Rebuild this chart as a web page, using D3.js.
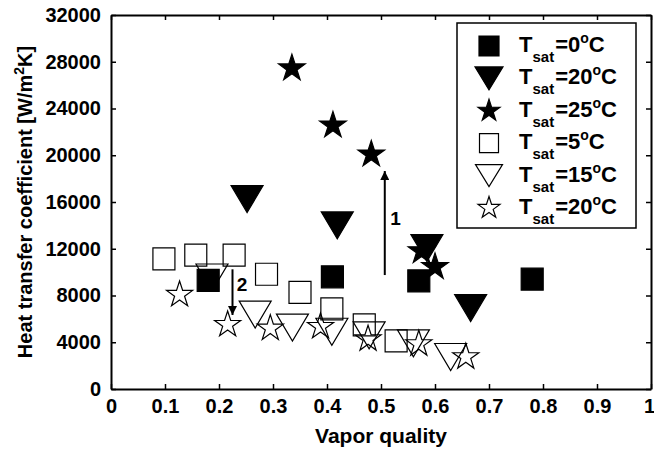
<!DOCTYPE html>
<html>
<head>
<meta charset="utf-8">
<script src="https://cdn.jsdelivr.net/npm/d3@7"></script>
<style>
  body { margin: 0; background: #fff; }
  svg text { font-family: "Liberation Sans", Arial, Helvetica, sans-serif; font-weight: bold; fill: #000; }
</style>
</head>
<body>
<div id="chart"></div>
<script>
// Tick values
const xTickValues = [0, 0.1, 0.2, 0.3, 0.4, 0.5, 0.6, 0.7, 0.8, 0.9, 1];
const xTickLabels = ["0", "0.1", "0.2", "0.3", "0.4", "0.5", "0.6", "0.7", "0.8", "0.9", "1"];
const yTickValues = [0, 4000, 8000, 12000, 16000, 20000, 24000, 28000, 32000];

// Series: filled markers
const sq0X = [0.18, 0.41, 0.57, 0.78];
const sq0Y = [9300, 9600, 9250, 9400];
const triF20X = [0.252, 0.419, 0.585, 0.666];
const triF20Y = [16250, 14000, 12060, 6930];
const starF25X = [0.335, 0.411, 0.482, 0.575, 0.600];
const starF25Y = [27440, 22550, 20070, 11800, 10440];

// Series: open markers
const sq5X = [0.098, 0.157, 0.228, 0.288, 0.350, 0.409, 0.469, 0.528];
const sq5Y = [11140, 11450, 11450, 9820, 8260, 6860, 5480, 4110];
const tri15X = [0.187, 0.267, 0.336, 0.409, 0.478, 0.560, 0.629];
const tri15Y = [9540, 6360, 5250, 4900, 4590, 3910, 2740];
const starO20X = [0.127, 0.216, 0.295, 0.388, 0.476, 0.570, 0.657];
const starO20Y = [8070, 5500, 5190, 5330, 4280, 3850, 2740];

// Legend temperatures (same order as series)
const legendTemps = ["0", "20", "25", "5", "15", "20"];

// Annotation arrows (data units)
const arrowX = [0.507, 0.225];
const arrowFrom = [9750, 10240];
const arrowTo = [18650, 6330];
const arrowLabels = ["1", "2"];
const arrowLabelX = [0.517, 0.233];
const arrowLabelY = [14000, 8400];

const width = 654, height = 449;
const margin = { top: 15, right: 3, bottom: 60, left: 111 };

const x = d3.scaleLinear().domain([0, 1]).range([margin.left, width - margin.right]);
const y = d3.scaleLinear().domain([0, 32000]).range([height - margin.bottom, margin.top]);

const svg = d3.select("#chart").append("svg")
    .attr("width", width)
    .attr("height", height);

// marker shapes
function squarePath(s) {
    const h = s / 2;
    return `M${-h},${-h}H${h}V${h}H${-h}Z`;
}
function triDownPath(w, h) {
    return `M${-w / 2},${-h / 2}L${w / 2},${-h / 2}L0,${h / 2}Z`;
}
function starPath(r) {
    const ri = r * 0.382;
    let p = "";
    for (let i = 0; i < 10; i++) {
        const rr = i % 2 === 0 ? r : ri;
        const a = -Math.PI / 2 + i * Math.PI / 5;
        p += (i === 0 ? "M" : "L") + (rr * Math.cos(a)).toFixed(2) + "," + (rr * Math.sin(a)).toFixed(2);
    }
    return p + "Z";
}

const series = [
    { xs: sq0X, ys: sq0Y, path: squarePath(22), lpath: squarePath(20), filled: true },
    { xs: triF20X, ys: triF20Y, path: triDownPath(32, 27), lpath: triDownPath(28, 23), filled: true },
    { xs: starF25X, ys: starF25Y, path: starPath(14), lpath: starPath(11.5), filled: true },
    { xs: sq5X, ys: sq5Y, path: squarePath(22), lpath: squarePath(19), filled: false },
    { xs: tri15X, ys: tri15Y, path: triDownPath(32, 27), lpath: triDownPath(27, 22), filled: false },
    { xs: starO20X, ys: starO20Y, path: starPath(13.7), lpath: starPath(11.5), filled: false }
];

// axes: bottom/left with labels, top/right mirrored, all ticks inward
const tickLen = 5;
svg.append("g")
    .attr("transform", `translate(0,${y(0)})`)
    .call(d3.axisBottom(x).tickValues(xTickValues).tickFormat((d, i) => xTickLabels[i])
        .tickSizeInner(-tickLen).tickSizeOuter(0).tickPadding(10))
    .call(g => g.selectAll("text").style("font-size", "20px").attr("dy", "0.71em")
        .attr("dx", d => d === 1 ? -2 : 0));
svg.append("g")
    .attr("transform", `translate(0,${y(32000)})`)
    .call(d3.axisTop(x).tickValues(xTickValues).tickFormat("").tickSizeInner(-tickLen).tickSizeOuter(0));
svg.append("g")
    .attr("transform", `translate(${x(0)},0)`)
    .call(d3.axisLeft(y).tickValues(yTickValues).tickFormat(d3.format("d"))
        .tickSizeInner(-tickLen).tickSizeOuter(0).tickPadding(10))
    .call(g => g.selectAll("text").style("font-size", "20px"));
svg.append("g")
    .attr("transform", `translate(${x(1)},0)`)
    .call(d3.axisRight(y).tickValues(yTickValues).tickFormat("").tickSizeInner(-tickLen).tickSizeOuter(0));

svg.selectAll(".domain").attr("stroke", "#000").attr("stroke-width", 2);
svg.selectAll(".tick line").attr("stroke", "#000").attr("stroke-width", 1.5);

// data markers
series.forEach(s => {
    svg.append("g")
        .selectAll("path")
        .data(s.xs.map((v, i) => [v, s.ys[i]]))
        .enter().append("path")
        .attr("d", s.path)
        .attr("transform", d => `translate(${x(d[0])},${y(d[1])})`)
        .style("fill", s.filled ? "#000" : "none")
        .style("stroke", "#000")
        .style("stroke-width", 1.2);
});

// arrows
const defs = svg.append("defs");
defs.append("marker")
    .attr("id", "head")
    .attr("viewBox", "0 0 10 10")
    .attr("refX", 10).attr("refY", 5)
    .attr("markerWidth", 14).attr("markerHeight", 9)
    .attr("markerUnits", "userSpaceOnUse")
    .attr("orient", "auto")
    .append("path").attr("d", "M0,0L10,5L0,10Z").attr("fill", "#000");

arrowX.forEach((ax, i) => {
    svg.append("line")
        .attr("x1", x(ax)).attr("x2", x(ax))
        .attr("y1", y(arrowFrom[i])).attr("y2", y(arrowTo[i]))
        .attr("stroke", "#000").attr("stroke-width", 2)
        .attr("marker-end", "url(#head)");
    svg.append("text")
        .attr("x", x(arrowLabelX[i])).attr("y", y(arrowLabelY[i]))
        .style("font-size", "19px")
        .text(arrowLabels[i]);
});

// legend
const lg = svg.append("g");
lg.append("rect")
    .attr("x", 457).attr("y", 23).attr("width", 179).attr("height", 205)
    .attr("fill", "#fff").attr("stroke", "#000").attr("stroke-width", 1.5);
series.forEach((s, i) => {
    const cy = 46 + i * 32.4;
    lg.append("path")
        .attr("d", s.lpath)
        .attr("transform", `translate(489,${cy})`)
        .style("fill", s.filled ? "#000" : "none")
        .style("stroke", "#000")
        .style("stroke-width", 1.2);
    const t = lg.append("text").attr("x", 519).attr("y", cy + 6).style("font-size", "22px");
    t.append("tspan").text("T");
    t.append("tspan").attr("dx", 0).attr("dy", 10).style("font-size", "15px").text("sat");
    t.append("tspan").attr("dx", 1).attr("dy", -10).text("=" + legendTemps[i]);
    t.append("tspan").attr("dy", -9).style("font-size", "14px").text("o");
    t.append("tspan").attr("dy", 9).text("C");
});

// axis titles
svg.append("text")
    .attr("x", x(0.5)).attr("y", 443)
    .attr("text-anchor", "middle")
    .style("font-size", "21px")
    .text("Vapor quality");

const yt = svg.append("text")
    .attr("transform", `translate(32,${y(16000)}) rotate(-90)`)
    .attr("text-anchor", "middle")
    .style("font-size", "20px");
yt.append("tspan").text("Heat transfer coefficient [W/m");
yt.append("tspan").attr("dy", -8).style("font-size", "14px").text("2");
yt.append("tspan").attr("dy", 8).text("K]");
</script>
</body>
</html>
